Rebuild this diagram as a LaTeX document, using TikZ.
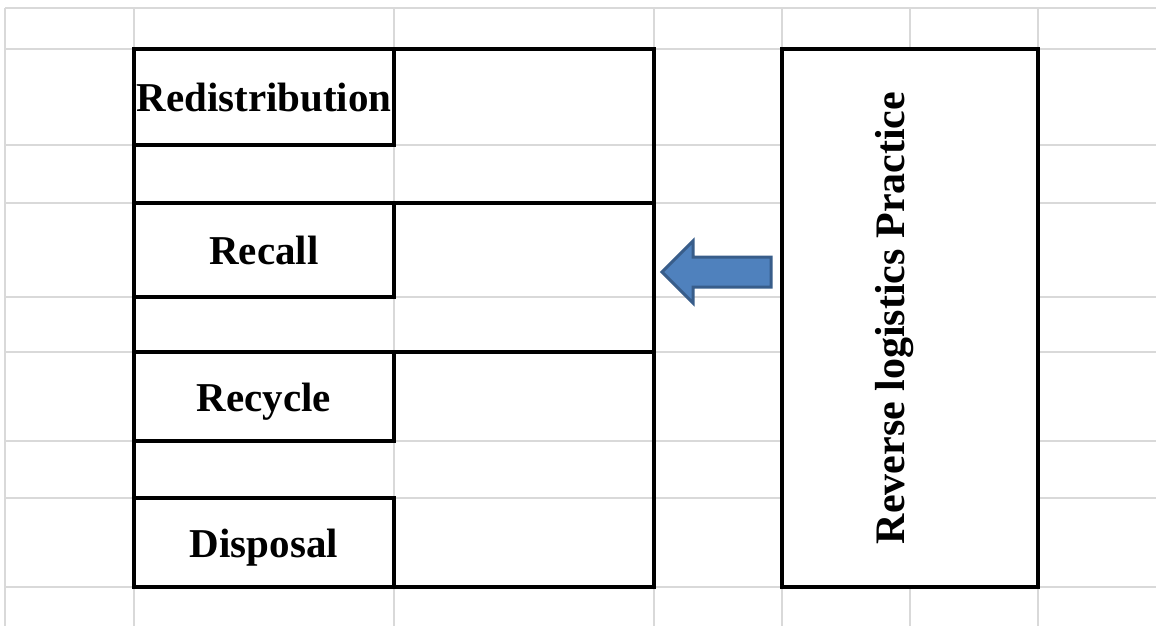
\documentclass[tikz,border=0pt]{standalone}
\usepackage{fontspec}
\setmainfont{Liberation Serif}
\definecolor{gridgray}{HTML}{D9D9D9}
\definecolor{arrowfill}{HTML}{4F81BD}
\definecolor{arrowdraw}{HTML}{385D8A}
\begin{document}
\begin{tikzpicture}[x=1pt,y=-1pt,
  gridline/.style={draw=gridgray,line width=2pt},
  border/.style={draw=black,line width=3.5pt},
  labelfont/.style={font=\fontsize{41}{45}\selectfont\bfseries},
  cell/.style={border,labelfont,minimum width=260pt,minimum height=#1,inner sep=0pt,text height=29pt,text depth=0pt},
  blockarrow/.style={fill=arrowfill,draw=arrowdraw,line width=3pt,line join=miter}
]
\useasboundingbox (0,0) rectangle (1156,626);
% spreadsheet grid
\foreach \x in {5,134,394,654,782,910,1038} \draw[gridline] (\x,8) -- (\x,626);
\foreach \y in {8,49,145,203,297,352,441,498,587} \draw[gridline] (5,\y) -- (1156,\y);
% left frame
\draw[border] (134,49) rectangle (654,587);
\draw[border] (134,203) -- (654,203);
\draw[border] (134,352) -- (654,352);
% label cells
\node[cell=96pt] (redis) at (264,97) {Redistribution};
\node[cell=94pt] (recall) at (264,250) {Recall};
\node[cell=89pt] (recycle) at (264,396.5) {Recycle};
\node[cell=89pt] (disposal) at (264,542.5) {Disposal};
% right box (merged cell)
\node[border,fill=white,minimum width=256pt,minimum height=538pt,inner sep=0pt] (rlp) at (910,318) {};
\node[font=\fontsize{42}{46}\selectfont\bfseries,rotate=90,anchor=base,inner sep=0pt] (rlptext) at (904,318) {Reverse logistics Practice};
% block arrow
\coordinate (tip) at (662,272);
\draw[blockarrow] (tip) -- (693,241) -- (693,257) -- (771,257) -- (771,287) -- (693,287) -- (693,303) -- cycle;
\end{tikzpicture}
\end{document}
